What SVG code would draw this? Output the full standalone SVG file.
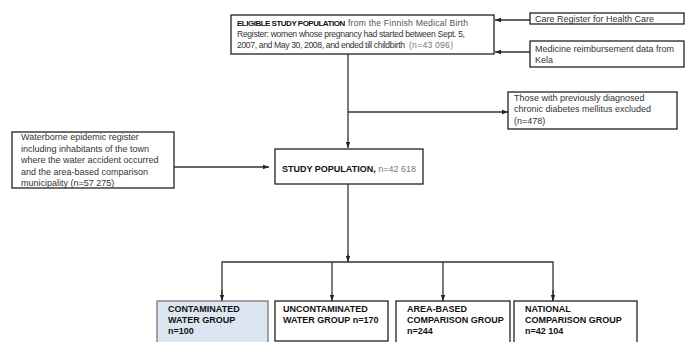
<svg xmlns="http://www.w3.org/2000/svg" width="686" height="342" viewBox="0 0 686 342">
<defs>
<style>
text{font-family:"Liberation Sans",Arial,sans-serif;font-size:9px;fill:#333}
.b{font-weight:bold;fill:#111}
.g{fill:#555}
.l{fill:#777}
.s{font-size:8.6px}
.bt{font-size:8px;letter-spacing:-0.5px}
.box{fill:#fff;stroke:#222;stroke-width:1.3}
.con{fill:none;stroke:#333;stroke-width:1.3}
</style>
<marker id="ah" markerUnits="userSpaceOnUse" markerWidth="6" markerHeight="6" viewBox="0 0 6 6" refX="6" refY="3" orient="auto">
<path d="M0,0.8 L6,3 L0,5.2 Z" fill="#222"/>
</marker>
</defs>
<g id="connectors">
<path class="con" d="M348,54 V148" marker-end="url(#ah)"/>
<path class="con" d="M348,112 H508" marker-end="url(#ah)"/>
<path class="con" d="M530,20 H495" marker-end="url(#ah)"/>
<path class="con" d="M530,52 H495" marker-end="url(#ah)"/>
<path class="con" d="M174,167 H269" marker-end="url(#ah)"/>
<path class="con" d="M348,184 V262"/>
<path class="con" d="M348,254 V262" marker-end="url(#ah)"/>
<path class="con" d="M222,301 V262 H553 V301" />
<path class="con" d="M222,290 V301" marker-end="url(#ah)"/>
<path class="con" d="M332,262 V301" marker-end="url(#ah)"/>
<path class="con" d="M443,262 V301" marker-end="url(#ah)"/>
<path class="con" d="M553,290 V301" marker-end="url(#ah)"/>
</g>
<g id="eligible">
<rect class="box" x="231" y="15" width="263" height="39"/>
<text y="26"><tspan class="b bt" x="237">ELIGIBLE  STUDY POPULATION</tspan><tspan class="g s" x="348" textLength="120">from the Finnish Medical Birth</tspan></text>
<text class="s" x="237" y="37" textLength="228">Register: women whose pregnancy had started between Sept. 5,</text>
<text class="s" x="237" y="48"><tspan textLength="168">2007, and May 30, 2008, and ended till childbirth</tspan><tspan class="l" x="409" textLength="44">(n=43 096)</tspan></text>
</g>
<g id="care">
<rect class="box" x="530" y="13" width="154" height="11"/>
<text x="535" y="22">Care Register for Health Care</text>
</g>
<g id="medicine">
<rect class="box" x="530" y="41" width="154" height="26"/>
<text x="535" y="52">Medicine reimbursement  data from</text>
<text x="535" y="63">Kela</text>
</g>
<g id="diabetes">
<rect class="box" x="508" y="92" width="169" height="37"/>
<text x="514" y="100.5">Those with previously diagnosed</text>
<text x="514" y="112">chronic diabetes mellitus  excluded</text>
<text x="514" y="123.5">(n=478)</text>
</g>
<g id="waterborne">
<rect class="box" x="12" y="132" width="162" height="56"/>
<text x="21" y="140">Waterborne epidemic register</text>
<text x="21" y="151.5">including inhabitants of the town</text>
<text x="21" y="163">where the water accident occurred</text>
<text x="21" y="174.5">and the area-based comparison</text>
<text x="21" y="186">municipality (n=57 275)</text>
</g>
<g id="study">
<rect class="box" x="275" y="149" width="148" height="35"/>
<text x="282" y="172"><tspan class="b">STUDY POPULATION,</tspan><tspan class="l"> n=42 618</tspan></text>
</g>
<g id="contaminated">
<rect x="157" y="301" width="111" height="45" fill="#dce6f2" stroke="#777" stroke-width="1.3"/>
<text class="b" x="168" y="312">CONTAMINATED</text>
<text class="b" x="168" y="323">WATER GROUP</text>
<text class="b" x="168" y="334">n=100</text>
</g>
<g id="uncontaminated">
<rect class="box" x="275" y="301" width="113" height="40"/>
<text class="b" x="283" y="312">UNCONTAMINATED</text>
<text class="b" x="283" y="323">WATER GROUP n=170</text>
</g>
<g id="areabased">
<rect class="box" x="396" y="301" width="114" height="45"/>
<text class="b" x="407" y="312">AREA-BASED</text>
<text class="b" x="407" y="323">COMPARISON GROUP</text>
<text class="b" x="407" y="334">n=244</text>
</g>
<g id="national">
<rect class="box" x="514" y="301" width="123" height="45"/>
<text class="b" x="525" y="312">NATIONAL</text>
<text class="b" x="525" y="323">COMPARISON GROUP</text>
<text class="b" x="525" y="334">n=42 104</text>
</g>
</svg>
